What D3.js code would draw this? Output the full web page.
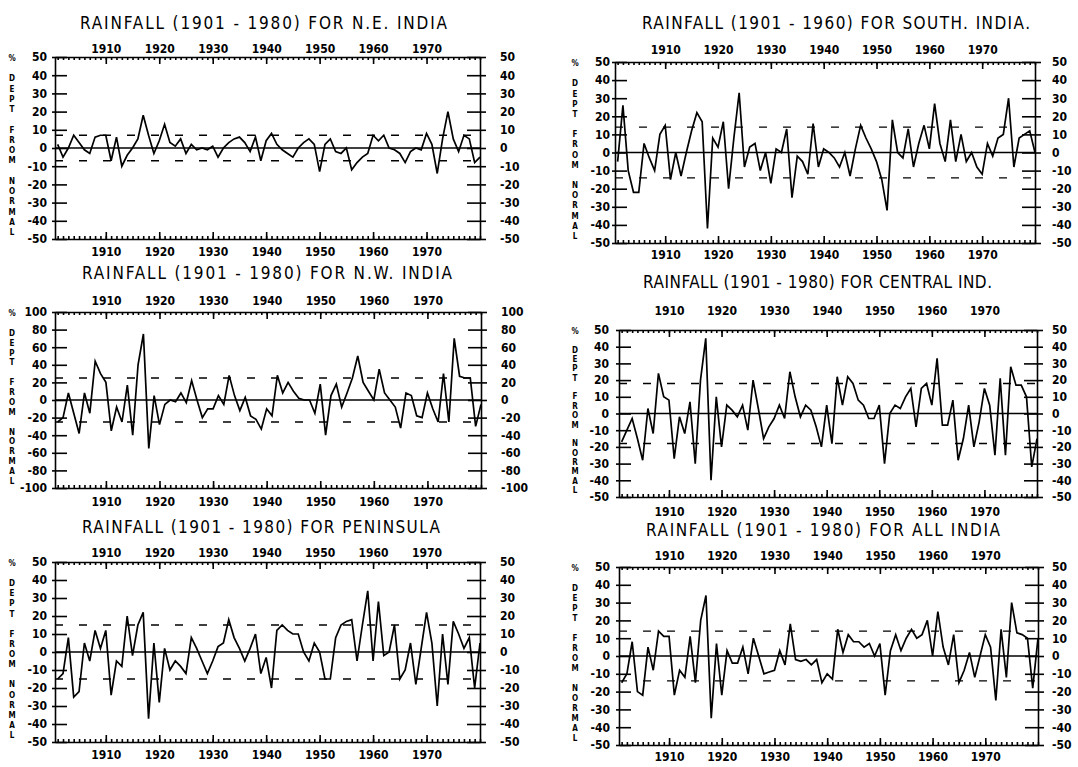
<!DOCTYPE html>
<html>
<head>
<meta charset="utf-8">
<script src="https://cdn.jsdelivr.net/npm/d3@7"></script>
<style>
body { margin: 0; background: #fff; }
svg text { font-family: "DejaVu Sans Condensed", "DejaVu Sans", sans-serif; fill: #000; }
</style>
</head>
<body>
<svg id="chart" width="1078" height="767"></svg>
<script>
// years on the x axis
var years = d3.range(1901, 1981);
var decades = [1910, 1920, 1930, 1940, 1950, 1960, 1970];

// % departure from normal, one value per year 1901..1980
var neIndia = [2, -5, 0, 7, 3, -1, -3, 6, 7, 7, -7, 6, -10, -4, 0, 5, 18, 7, -3, 4,
  13, 3, 1, 5, -3, 2, -1, 0, -1, 1, -5, 0, 3, 5, 6, 3, -2, 6, -7, 4,
  8, 2, -1, -3, -5, 0, 3, 5, 2, -13, 2, 5, -2, -3, 0, -12, -8, -5, -3, 7,
  4, 7, 0, -1, -3, -8, -2, 0, -1, 8, 2, -14, 5, 20, 5, -2, 7, 5, -8, -5];

var southIndia = [-5, 26, -10, -22, -22, 5, -3, -10, 10, 15, -15, 0, -13, 0, 12, 22, 17, -42, 8, 3,
  17, -20, 8, 33, -8, 3, 5, -10, 0, -17, 2, 0, 13, -25, -2, -5, -12, 16, -8, 2,
  0, -3, -8, 0, -13, 2, 15, 8, 2, -5, -15, -32, 18, 0, -3, 13, -8, 5, 15, 2,
  27, 5, -5, 18, -5, 10, -5, 0, -8, -12, 5, -2, 8, 10, 30, -8, 8, 10, 12, 0];

var nwIndia = [-25, -20, 8, -15, -38, 8, -15, 44, 30, 20, -35, -8, -25, 17, -40, 40, 75, -55, 5, -28,
  -5, 0, -2, 8, -3, 22, 0, -20, -10, -10, 5, -5, 28, 5, -12, 3, -18, -22, -33, -10,
  -18, 28, 8, 20, 10, 2, 0, 0, -15, 18, -40, 5, 18, -8, 8, 25, 50, 20, 10, 0,
  35, 8, 0, -8, -32, 8, 5, -18, -20, 8, -10, -25, 30, -25, 70, 27, 25, 25, -30, -5];

var centralIndia = [-17, -10, -3, -15, -28, 3, -12, 24, 10, 8, -27, -2, -12, 7, -30, 20, 45, -40, 10, -20,
  5, 2, -2, 5, -10, 20, 3, -15, -8, -3, 5, -3, 25, 10, -2, 5, 2, -8, -20, 5,
  -18, 22, 5, 22, 18, 8, 5, -3, -3, 5, -30, 0, 5, 3, 10, 15, -8, 15, 18, 5,
  33, -7, -7, 8, -28, -15, 5, -20, -5, 15, 5, -25, 21, -25, 28, 17, 17, 10, -32, -15];

var peninsula = [-15, -12, 8, -25, -22, 5, -5, 12, 2, 12, -24, -5, -8, 20, -2, 15, 22, -37, 5, -28,
  2, -10, -5, -8, -12, 8, 2, -5, -12, -5, 3, 5, 18, 8, 2, -5, 2, 10, -12, -3,
  -20, 12, 15, 12, 10, 10, 0, -5, 5, 0, -15, -15, 8, 15, 17, 18, -5, 15, 34, -5,
  28, -2, 0, 15, -15, -10, 5, -18, 2, 22, 5, -30, 10, -18, 17, 10, 2, 8, -20, 5];

var allIndia = [-15, -10, 8, -20, -22, 5, -8, 14, 11, 11, -22, -8, -12, 11, -15, 20, 34, -35, 7, -22,
  3, -4, -4, 5, -10, 10, 0, -10, -9, -8, 3, -5, 18, -2, -3, -2, -5, -2, -15, -10,
  -13, 15, 2, 12, 8, 8, 5, 7, 0, 7, -22, 3, 12, 3, 10, 15, 10, 12, 20, 0,
  25, 5, -5, 12, -15, -8, 2, -12, 0, 12, 5, -25, 15, -12, 30, 13, 12, 10, -18, 10];

// dashed band (+/-) for each region
var bands = { ne: 7, south: 14, nw: 25, central: 18, pen: 15, all: 14 };

var yLabel = ['%', '', 'D', 'E', 'P', 'T', '', 'F', 'R', 'O', 'M', '', 'N', 'O', 'R', 'M', 'A', 'L'];

var panels = [
  { key: 'ne', title: 'RAINFALL (1901 - 1980) FOR N.E. INDIA', values: neIndia, yMax: 50, step: 10,
    x0: 55, x1: 480, y0: 57, y1: 239, tx: 80, tw: 367, ty: 29, topPad: 4, botPad: 8, leftPad: 8, rightPad: 20, labX: 12 },
  { key: 'south', title: 'RAINFALL (1901 - 1960) FOR SOUTH. INDIA.', values: southIndia, yMax: 50, step: 10,
    x0: 615, x1: 1035, y0: 62, y1: 243, tx: 642, tw: 388, ty: 29, topPad: 8, botPad: 7, leftPad: 5, rightPad: 17, labX: 575 },
  { key: 'nw', title: 'RAINFALL (1901 - 1980) FOR N.W. INDIA', values: nwIndia, yMax: 100, step: 20,
    x0: 55, x1: 481, y0: 312, y1: 488, tx: 82, tw: 370, ty: 279, topPad: 7, botPad: 9, leftPad: 8, rightPad: 20, labX: 12 },
  { key: 'central', title: 'RAINFALL (1901 - 1980) FOR CENTRAL IND.', values: centralIndia, yMax: 50, step: 10,
    x0: 619, x1: 1037, y0: 330, y1: 497, tx: 643, tw: 349, ty: 288, topPad: 15, botPad: 10, leftPad: 10, rightPad: 15, labX: 575 },
  { key: 'pen', title: 'RAINFALL (1901 - 1980) FOR PENINSULA', values: peninsula, yMax: 50, step: 10,
    x0: 55, x1: 480, y0: 562, y1: 742, tx: 82, tw: 358, ty: 533, topPad: 5, botPad: 8, leftPad: 8, rightPad: 20, labX: 12 },
  { key: 'all', title: 'RAINFALL (1901 - 1980) FOR ALL INDIA', values: allIndia, yMax: 50, step: 10,
    x0: 619, x1: 1038, y0: 567, y1: 745, tx: 646, tw: 354, ty: 536, topPad: 7, botPad: 7, leftPad: 9, rightPad: 14, labX: 575 }
];

var svg = d3.select('#chart');

function styleAxis(g) {
  g.attr('font-size', null).attr('font-family', null);
  g.selectAll('path, line').attr('stroke', '#000').attr('stroke-width', 1.6);
  g.selectAll('text').style('font-size', '12px').style('font-weight', 'bold');
}

panels.forEach(function (p) {
  var x = d3.scaleLinear().domain([1900.5, 1980]).range([p.x0, p.x1]);
  var y = d3.scaleLinear().domain([-p.yMax, p.yMax]).range([p.y1, p.y0]);
  var g = svg.append('g').attr('class', 'panel-' + p.key);

  // title
  g.append('text')
    .attr('x', p.tx).attr('y', p.ty)
    .attr('textLength', p.tw).attr('lengthAdjust', 'spacing')
    .style('font-size', '17px')
    .text(p.title);

  // stacked y label
  var lab = g.append('text').attr('x', p.labX).attr('y', p.y0 + 4)
    .style('font-size', '8px').style('font-weight', 'bold').attr('text-anchor', 'middle');
  var gap = (p.y1 - p.y0 - 8) / (yLabel.length - 1);
  yLabel.forEach(function (c, i) {
    lab.append('tspan').attr('x', p.labX).attr('y', p.y0 + 4 + i * gap).text(c);
  });

  // zero line
  g.append('line')
    .attr('x1', p.x0).attr('x2', p.x1)
    .attr('y1', y(0)).attr('y2', y(0))
    .attr('stroke', '#000').attr('stroke-width', 1.4);

  // dashed band lines
  [bands[p.key], -bands[p.key]].forEach(function (v) {
    g.append('line')
      .attr('x1', p.x0).attr('x2', p.x1)
      .attr('y1', y(v)).attr('y2', y(v))
      .attr('stroke', '#000').attr('stroke-width', 1.4)
      .attr('stroke-dasharray', '8,16');
  });

  // series
  var line = d3.line().x(function (d, i) { return x(years[i]); }).y(function (d) { return y(d); });
  g.append('path')
    .datum(p.values)
    .attr('d', line)
    .attr('fill', 'none')
    .attr('stroke', '#000')
    .attr('stroke-width', 1.7)
    .attr('stroke-linejoin', 'miter');

  // top axis: yearly minor ticks + decade ticks with labels
  g.append('g').attr('transform', 'translate(0,' + p.y0 + ')')
    .call(d3.axisTop(x).tickValues(years).tickSize(-3).tickSizeOuter(0).tickFormat(''))
    .call(styleAxis);
  g.append('g').attr('transform', 'translate(0,' + p.y0 + ')')
    .call(d3.axisTop(x).tickValues(decades).tickSize(-7).tickPadding(p.topPad).tickFormat(function (d) { return d; }))
    .call(function (a) { a.select('.domain').remove(); })
    .call(styleAxis);

  // bottom axis
  g.append('g').attr('transform', 'translate(0,' + p.y1 + ')')
    .call(d3.axisBottom(x).tickValues(years).tickSize(-3).tickSizeOuter(0).tickFormat(''))
    .call(styleAxis);
  g.append('g').attr('transform', 'translate(0,' + p.y1 + ')')
    .call(d3.axisBottom(x).tickValues(decades).tickSize(-7).tickPadding(p.botPad).tickFormat(function (d) { return d; }))
    .call(function (a) { a.select('.domain').remove(); })
    .call(styleAxis);

  var yTicks = d3.range(-p.yMax, p.yMax + 1, p.step);

  // left axis, ticks crossing the line
  g.append('g').attr('transform', 'translate(' + p.x0 + ',0)')
    .call(d3.axisLeft(y).tickValues(yTicks).tickSizeInner(-12).tickSizeOuter(0).tickPadding(p.leftPad)
      .tickFormat(function (d) { return String(d); }))
    .call(function (a) { a.selectAll('.tick line').attr('x1', -3); })
    .call(styleAxis);

  // right axis
  g.append('g').attr('transform', 'translate(' + p.x1 + ',0)')
    .call(d3.axisRight(y).tickValues(yTicks).tickSizeInner(-13).tickSizeOuter(0).tickPadding(p.rightPad)
      .tickFormat(function (d) { return String(d); }))
    .call(function (a) { a.selectAll('.tick line').attr('x1', 6); })
    .call(styleAxis);
});
</script>
</body>
</html>
